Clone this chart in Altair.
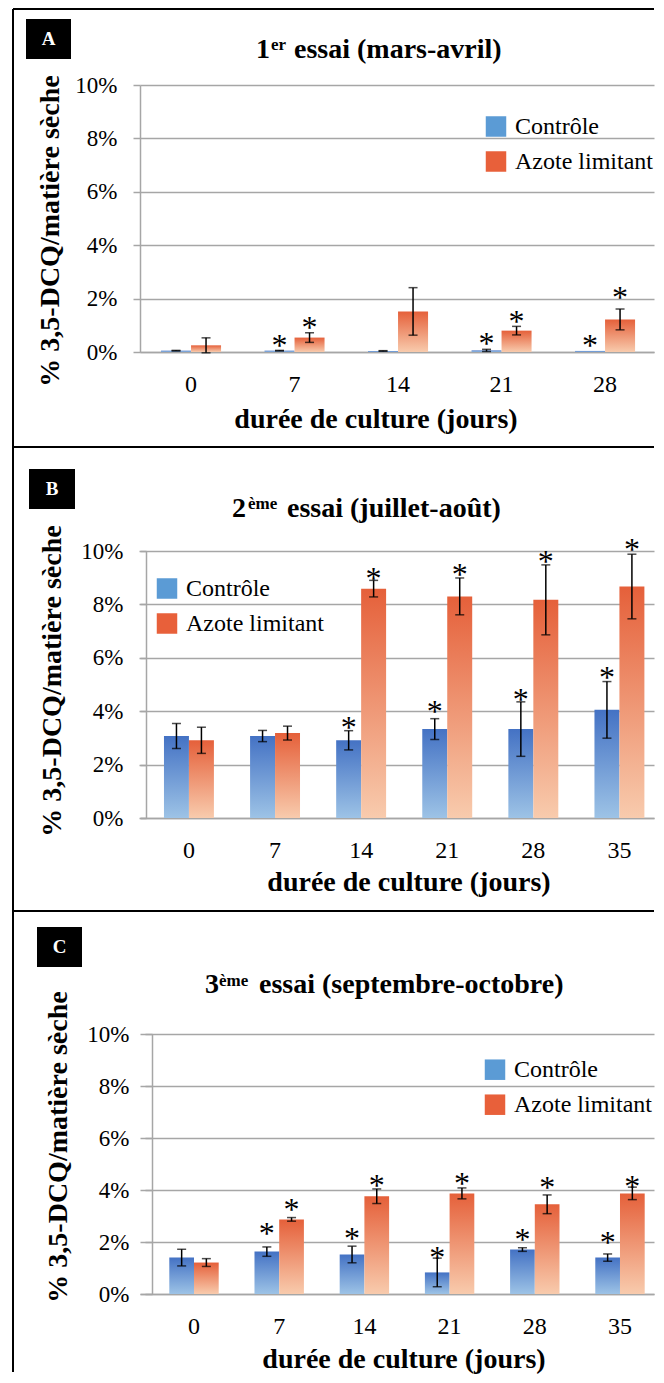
import altair as alt
import pandas as pd

FONT = "Liberation Serif"
GRID = "#A6A6A6"
BLUE_TOP, BLUE_BOT = "#4472C4", "#9DC3E6"
ORG_TOP, ORG_BOT = "#E5603A", "#F8CBAD"
LEG_COLORS = ["#5B9BD5", "#E8603A"]

series = ["Contrôle", "Azote limitant"]
y_ticks = [0, 2, 4, 6, 8, 10]

# ---- Panel A : 1er essai (mars-avril)
days_A = ["0", "7", "14", "21", "28"]
ctrl_A = [0.05, 0.05, 0.04, 0.06, 0.04]
ctrl_err_A = [0.01, 0.01, 0.01, 0.04, None]
ctrl_star_A = [None, 0.46, None, 0.53, 0.46]
az_A = [0.25, 0.54, 1.52, 0.80, 1.22]
az_err_A = [0.28, 0.18, 0.89, 0.16, 0.39]
az_star_A = [None, 1.11, None, 1.33, 2.23]

# ---- Panel B : 2ème essai (juillet-août)
days_B = ["0", "7", "14", "21", "28", "35"]
ctrl_B = [3.07, 3.07, 2.91, 3.33, 3.33, 4.05]
ctrl_err_B = [0.47, 0.21, 0.36, 0.39, 1.02, 1.06]
ctrl_star_B = [None, None, 3.61, 4.20, 4.66, 5.45]
az_B = [2.91, 3.18, 8.59, 8.30, 8.17, 8.67]
az_err_B = [0.49, 0.26, 0.31, 0.69, 1.31, 1.21]
az_star_B = [None, None, 9.19, 9.31, 9.80, 10.28]

# ---- Panel C : 3ème essai (septembre-octobre)
days_C = ["0", "7", "14", "21", "28", "35"]
ctrl_C = [1.40, 1.63, 1.52, 0.83, 1.71, 1.40]
ctrl_err_C = [0.32, 0.18, 0.32, 0.55, 0.07, 0.14]
ctrl_star_C = [None, 2.52, 2.36, 1.61, 2.32, 2.19]
az_C = [1.21, 2.87, 3.76, 3.87, 3.45, 3.87]
az_err_C = [0.15, 0.07, 0.28, 0.21, 0.36, 0.24]
az_star_C = [None, 3.45, 4.39, 4.48, 4.29, 4.35]


def make_df(days, c, ce, cs, a, ae, as_):
    rows = []
    for i, d in enumerate(days):
        rows.append(dict(day=d, series=series[0], val=c[i], err=ce[i], star=cs[i]))
        rows.append(dict(day=d, series=series[1], val=a[i], err=ae[i], star=as_[i]))
    return pd.DataFrame(rows)


def grad(top, bot):
    return alt.Gradient(
        gradient="linear",
        stops=[alt.GradientStop(color=top, offset=0), alt.GradientStop(color=bot, offset=1)],
        x1=0, x2=0, y1=0, y2=1,
    )


ONE = alt.Data(values=[{"k": 1}])


def txt(s, x, y, size, bold=False, angle=0, align="left", baseline="alphabetic", color="black"):
    return alt.Chart(ONE).mark_text(
        text=s, font=FONT, fontSize=size, fontWeight="bold" if bold else "normal",
        angle=angle, align=align, baseline=baseline, color=color,
    ).encode(x=alt.value(x), y=alt.value(y))


def rect(x1, x2, y1, y2, color="black", opacity=1):
    return alt.Chart(ONE).mark_rect(color=color, opacity=opacity).encode(
        x=alt.value(x1), x2=alt.value(x2), y=alt.value(y1), y2=alt.value(y2))


def vrule(x, y1, y2, w=2):
    return alt.Chart(ONE).mark_rule(color="black", strokeWidth=w).encode(
        x=alt.value(x), y=alt.value(y1), y2=alt.value(y2))


def hrule(y, x1, x2, w=2):
    return alt.Chart(ONE).mark_rule(color="black", strokeWidth=w).encode(
        y=alt.value(y), x=alt.value(x1), x2=alt.value(x2))


W = 514  # common plot width (page x 140 -> 654); whole chart stays within 648 px
YTITLE = "% 3,5-DCQ/matière sèche"


def panel(df, days, H, g):
    xenc = alt.X("day:N", sort=days,
                 scale=alt.Scale(domain=days, paddingInner=0.42, paddingOuter=g["po"],
                                 align=g["al"]),
                 axis=alt.Axis(title=None, labelAngle=0, labelFont=FONT, labelFontSize=24,
                               labelColor="black", labelPadding=20, ticks=False, tickSize=0,
                               domainColor=GRID, domainWidth=1.5, grid=False))
    yscale = alt.Scale(domain=[0, 10], nice=False)
    yax = alt.Axis(title=None, values=y_ticks, labelExpr="datum.value + '%'",
                   labelFont=FONT, labelFontSize=23, labelColor="black", labelPadding=16,
                   tickSize=7, tickColor=GRID, tickWidth=1.5, domainColor=GRID,
                   domainWidth=1.5, gridColor=GRID, gridWidth=1.5, offset=g["yoff"])
    xoff = alt.XOffset("series:N", sort=series,
                       scale=alt.Scale(domain=series, paddingInner=0, paddingOuter=0))
    base = alt.Chart(df)

    leg = base.mark_square(size=1, opacity=0, filled=True).encode(
        x=xenc, y=alt.Y("val:Q", scale=yscale, axis=yax),
        color=alt.Color("series:N", sort=series,
                        scale=alt.Scale(domain=series, range=LEG_COLORS),
                        legend=alt.Legend(title=None, orient="none", legendX=g["legX"],
                                          legendY=g["legY"], direction="vertical",
                                          symbolType="square", symbolSize=420,
                                          symbolOpacity=1, symbolStrokeWidth=0,
                                          labelFont=FONT, labelFontSize=24,
                                          labelColor="black", labelOffset=7,
                                          rowPadding=11, padding=0)),
    )
    bars_c = base.transform_filter(alt.datum.series == series[0]).mark_bar(
        color=grad(BLUE_TOP, BLUE_BOT)).encode(x=xenc, xOffset=xoff, y=alt.Y("val:Q", scale=yscale, axis=yax))
    bars_a = base.transform_filter(alt.datum.series == series[1]).mark_bar(
        color=grad(ORG_TOP, ORG_BOT)).encode(x=xenc, xOffset=xoff, y=alt.Y("val:Q", scale=yscale, axis=yax))

    eb = base.transform_filter("isValid(datum.err)").transform_calculate(
        lo="datum.val - datum.err", hi="datum.val + datum.err")
    stem = eb.mark_rule(color="black", strokeWidth=1.5).encode(
        x=xenc, xOffset=xoff, y=alt.Y("lo:Q", scale=yscale, axis=yax), y2="hi:Q")
    cap_hi = eb.mark_tick(color="black", thickness=1.5, size=9, orient="horizontal").encode(
        x=xenc, xOffset=xoff, y=alt.Y("hi:Q", scale=yscale, axis=yax))
    cap_lo = eb.mark_tick(color="black", thickness=1.5, size=9, orient="horizontal").encode(
        x=xenc, xOffset=xoff, y=alt.Y("lo:Q", scale=yscale, axis=yax))
    stars = base.transform_filter("isValid(datum.star)").mark_text(
        text="*", font=FONT, fontSize=32, baseline="middle", dy=6, color="black").encode(
        x=xenc, xOffset=xoff, y=alt.Y("star:Q", scale=yscale, axis=yax))

    deco = [
        rect(-132, -131, g["bt"], g["bt"] + 1, color="white", opacity=0),
        vrule(-127, g["bt"], g["bb"]),
        hrule(g["bt"], -127, W),
        rect(*g["box"]),
        txt(g["letter"], g["lc"][0], g["lc"][1], 19, bold=True, align="center",
            baseline="middle", color="white"),
        txt(g["t1"], g["t1x"], g["tby"], 28, bold=True),
        txt(g["t2"], g["t2x"], g["tsy"], 17, bold=True),
        txt(g["t3"], g["t3x"], g["tby"], 28, bold=True),
        txt(YTITLE, g["yt"][0], g["yt"][1], 28, bold=True, angle=270,
            align="center", baseline="middle"),
        txt("durée de culture (jours)", g["xt"][0], g["xt"][1], 28, bold=True,
            align="center", baseline="middle"),
    ]
    return alt.layer(leg, bars_c, bars_a, stem, cap_hi, cap_lo, stars, *deco).properties(
        width=W, height=H)


def spacer(h):
    return alt.Chart(ONE).mark_point(opacity=0, size=1).encode(
        x=alt.value(10), y=alt.value(10)).properties(width=W, height=h)


gA = dict(po=0.193, al=0.526, yoff=0, bt=-76, bb=362, box=(-114, -69, -66, -26),
          letter="A", lc=(-91.5, -46), t1="1", t1x=116, t2="er", t2x=131,
          t3="essai (mars-avril)", t3x=154, tby=-27, tsy=-35, yt=(-89, 146),
          xt=(236, 335), legX=344, legY=29.5)
gB = dict(po=0.195, al=0.714, yoff=-6, bt=-104, bb=360, box=(-111, -65, -82, -42),
          letter="B", lc=(-88, -62), t1="2", t1x=92, t2="ème", t2x=108,
          t3="essai (juillet-août)", t3x=147, tby=-34, tsy=-42, yt=(-87, 130),
          xt=(269, 332), legX=15, legY=25.5)
gC = dict(po=0.2265, al=0.759, yoff=-12, bt=-123, bb=338, box=(-103, -58, -107, -67),
          letter="C", lc=(-80.5, -87), t1="3", t1x=65, t2="ème", t2x=79,
          t3="essai (septembre-octobre)", t3x=119, tby=-41, tsy=-48, yt=(-81, 113),
          xt=(264, 326), legX=343, legY=23.7)

pA = panel(make_df(days_A, ctrl_A, ctrl_err_A, ctrl_star_A, az_A, az_err_A, az_star_A),
           days_A, 267, gA)
pB = panel(make_df(days_B, ctrl_B, ctrl_err_B, ctrl_star_B, az_B, az_err_B, az_star_B),
           days_B, 267, gB)
pC = panel(make_df(days_C, ctrl_C, ctrl_err_C, ctrl_star_C, az_C, az_err_C, az_star_C),
           days_C, 260, gC)

chart = alt.vconcat(pA, spacer(199), pB, spacer(216), pC, spacing=0, bounds="flush").resolve_scale(
    x="independent", xOffset="independent", y="independent", color="independent"
).properties(
    padding=0,
    background="white",
).configure(padding=0).configure_view(strokeWidth=0)

chart.save("out.html", embed_options={"renderer": "svg", "actions": False})
